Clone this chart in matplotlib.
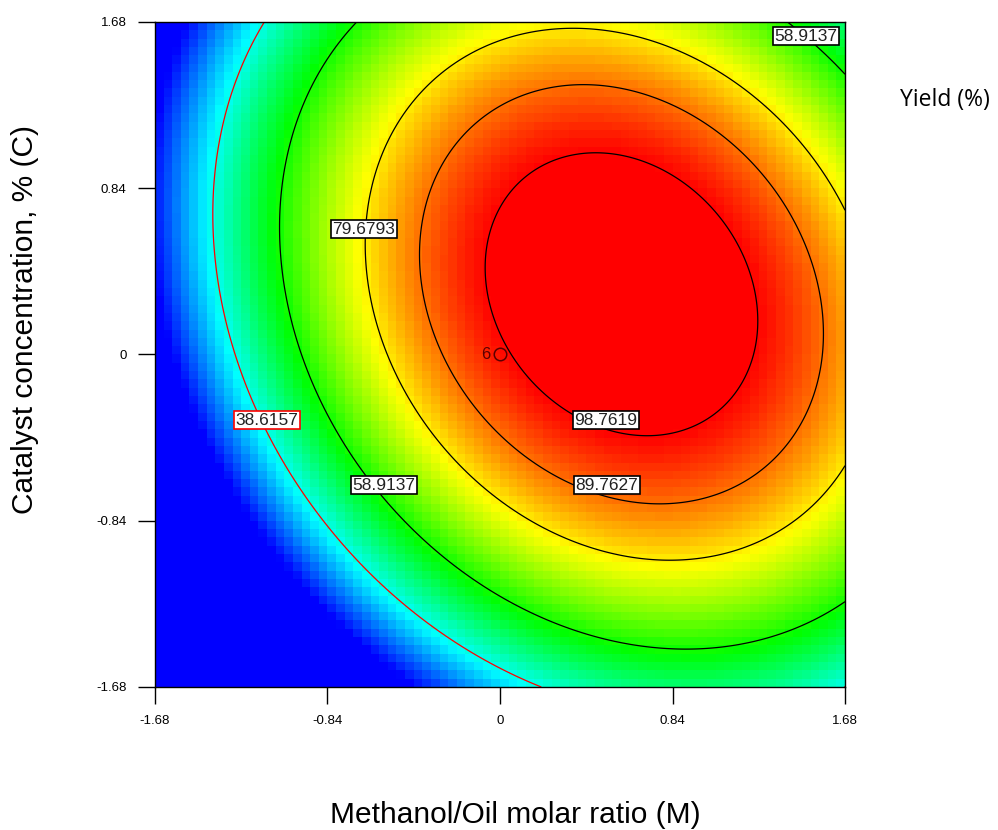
import numpy as np
import matplotlib
matplotlib.use('Agg')
import matplotlib.pyplot as plt
from matplotlib.colors import LinearSegmentedColormap

# ------------------------------------------------------------
# Data: coded factor range, fitted quadratic model, contours
# ------------------------------------------------------------
coded_ticks = [-1.68, -0.84, 0, 0.84, 1.68]
tick_labels = ['-1.68', '-0.84', '0', '0.84', '1.68']

# Yield = b0 + bM*M + bC*C + bMC*M*C + bMM*M^2 + bCC*C^2  (coded units)
b0 = 97.56
bM = 22.85
bC = 12.97
bMC = -6.2
bMM = -17.72
bCC = -15.28

contour_levels = [38.6157, 58.9137, 79.6793, 89.7627, 98.7619]
contour_colors = ['red', 'black', 'black', 'black', 'black']

# contour label text and where it sits (coded units)
label_text = ['58.9137', '79.6793', '38.6157', '58.9137', '98.7619', '89.7627']
label_m = [1.49, -0.662, -1.135, -0.565, 0.516, 0.521]
label_c = [1.609, 0.634, -0.331, -0.66, -0.331, -0.66]
label_edge = ['black', 'black', 'red', 'black', 'black', 'black']

# design point at centre with 6 replicates
design_m = [0.0]
design_c = [0.0]
design_n = [6]


def yield_model(m, c):
    return b0 + bM * m + bC * c + bMC * m * c + bMM * m ** 2 + bCC * c ** 2


# ------------------------------------------------------------
# Plot
# ------------------------------------------------------------
fig = plt.figure(figsize=(9.98, 8.3), dpi=100)
ax = fig.add_axes([0.1553, 0.1723, 0.6914, 0.8012])

cmap = LinearSegmentedColormap.from_list(
    'dx', ['#0000ff', '#00ffff', '#00ff00', '#ffff00', '#ff0000'])

# coarse colour cells like the original software
edges = np.linspace(-1.68, 1.68, 81)
mid = (edges[:-1] + edges[1:]) / 2
MM, CC = np.meshgrid(mid, mid)
ax.pcolormesh(edges, edges, yield_model(MM, CC), cmap=cmap,
              vmin=16, vmax=99, shading='flat')

# smooth contour lines
fine = np.linspace(-1.68, 1.68, 400)
FM, FC = np.meshgrid(fine, fine)
ax.contour(FM, FC, yield_model(FM, FC), levels=contour_levels,
           colors=contour_colors, linewidths=0.9)

for txt, m, c, ec in zip(label_text, label_m, label_c, label_edge):
    ax.text(m, c, txt, ha='center', va='center', fontsize=12.5,
            family='Liberation Sans', color='#222222', zorder=5,
            bbox=dict(boxstyle='square,pad=0.1', fc='white', ec=ec, lw=1.2))

for m, c, n in zip(design_m, design_c, design_n):
    ax.plot(m, c, 'o', ms=9, mfc='none', mec='#5a0000', mew=1.1, zorder=6)
    ax.text(m - 0.045, c, str(n), ha='right', va='center', fontsize=12,
            family='Liberation Sans', color='#5a0000', zorder=6)

ax.set_xlim(-1.68, 1.68)
ax.set_ylim(-1.68, 1.68)
ax.set_xticks(coded_ticks)
ax.set_yticks(coded_ticks)
ax.set_xticklabels(tick_labels, family='Liberation Sans', fontsize=9.5)
ax.set_yticklabels(tick_labels, family='Liberation Sans', fontsize=9.5)
ax.tick_params(direction='out', length=12.5, width=1, pad=8)
for sp in ax.spines.values():
    sp.set_linewidth(1)

fig.text(0.516, 1 - 815 / 830, 'Methanol/Oil molar ratio (M)',
         ha='center', va='center', fontsize=21.5, family='Liberation Sans')
fig.text(25 / 998, 1 - 320 / 830, 'Catalyst concentration, % (C)',
         ha='center', va='center', rotation=90, fontsize=21.5,
         family='Liberation Sans')
fig.text(945 / 998, 1 - 100 / 830, 'Yield (%)', ha='center', va='center',
         fontsize=16.5, family='Open Sans')

plt.savefig('out.png', dpi=100)
